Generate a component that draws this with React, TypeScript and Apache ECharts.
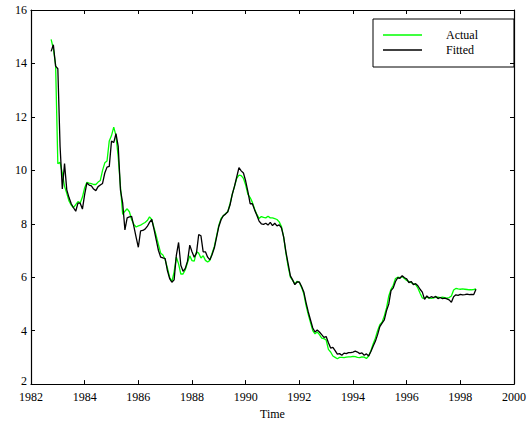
import React, { useEffect, useRef } from "react";
import * as echarts from "echarts";

// Monthly observations starting October 1982 (1982.75)
const startYear = 1982.75;
const monthsPerYear = 12;

const actual: number[] = [
  14.9, 14.55, 13.95, 10.25, 10.3, 9.9, 9.4, 9.14, 8.85, 8.7,
  8.6, 8.72, 8.83, 8.78, 9.0, 9.35, 9.55, 9.52, 9.5, 9.47,
  9.47, 9.56, 9.62, 10.0, 10.28, 10.35, 11.1, 11.3, 11.62, 11.3,
  10.5, 9.4, 8.35, 8.47, 8.56, 8.45, 8.15, 7.98, 7.88, 7.92,
  7.95, 8.0, 8.05, 8.12, 8.26, 8.16, 7.85, 7.55, 7.22, 6.9,
  6.83, 6.65, 6.35, 6.0, 5.83, 6.2, 6.75, 6.5, 6.12, 6.12,
  6.28, 6.55, 6.8, 6.62, 6.6, 6.95, 6.9, 6.72, 6.8, 6.63,
  6.57, 6.63, 6.9, 7.15, 7.55, 7.95, 8.2, 8.3, 8.38, 8.45,
  8.75, 9.1, 9.4, 9.7, 9.82, 9.8, 9.7, 9.45, 9.1, 8.98,
  8.8, 8.55, 8.35, 8.2, 8.27, 8.24, 8.22, 8.28, 8.22, 8.22,
  8.19, 8.16, 8.07, 7.9, 7.5, 6.9, 6.4, 6.0, 5.88, 5.75,
  5.85, 5.8, 5.62, 5.38, 4.95, 4.6, 4.3, 4.0, 3.88, 3.95,
  3.85, 3.72, 3.7, 3.65, 3.3, 3.2, 3.05, 3.0, 2.95, 3.0,
  3.0, 2.99, 3.01, 3.02, 3.02, 3.04, 3.03, 3.0, 2.99, 3.02,
  3.01, 2.96, 3.05, 3.25, 3.5, 3.72, 4.0, 4.22, 4.32, 4.55,
  4.85, 5.3, 5.55, 5.7, 5.95, 6.0, 5.98, 6.02, 5.95, 5.88,
  5.84, 5.8, 5.75, 5.72, 5.6, 5.4, 5.22, 5.22, 5.25, 5.22,
  5.21, 5.23, 5.25, 5.25, 5.24, 5.25, 5.24, 5.22, 5.24, 5.3,
  5.52, 5.58, 5.56, 5.55, 5.56, 5.55, 5.54, 5.53, 5.53, 5.54,
  5.56,
];

const fitted: number[] = [
  14.45, 14.7, 13.9, 13.8, 10.9, 9.3, 10.25, 9.27, 8.98, 8.75,
  8.6, 8.47, 8.77, 8.77, 8.55, 9.1, 9.53, 9.45, 9.42, 9.3,
  9.24, 9.39, 9.45, 9.51, 9.9, 10.12, 10.15, 11.1, 11.04, 11.37,
  10.9, 9.27, 8.77, 7.77, 8.22, 8.26, 8.28, 7.9, 7.5, 7.12,
  7.73, 7.75, 7.8, 7.9, 8.05, 8.16, 7.8, 7.4, 7.0, 6.75,
  6.72, 6.7, 6.25, 5.95, 5.81, 5.9, 6.82, 7.3, 6.45, 6.22,
  6.33, 6.6, 7.2, 6.95, 6.75, 6.9, 7.6, 7.55, 6.95, 6.95,
  6.75, 6.65, 6.85, 7.1, 7.5, 7.9, 8.15, 8.3, 8.36, 8.45,
  8.7, 9.1, 9.4, 9.75, 10.1, 9.98, 9.9, 9.6, 9.2, 8.75,
  8.75, 8.52, 8.32, 8.1, 8.0, 7.98, 8.02, 7.95, 8.05, 7.93,
  8.02, 7.92, 7.96, 7.85, 7.5, 6.95, 6.5, 6.05, 5.9, 5.72,
  5.82, 5.82, 5.65, 5.45, 5.05, 4.7, 4.4, 4.1, 3.95, 4.02,
  3.95, 3.85, 3.75, 3.78, 3.55, 3.35, 3.37, 3.25, 3.12, 3.14,
  3.08, 3.16, 3.14, 3.18, 3.18, 3.2, 3.23, 3.2, 3.14, 3.17,
  3.08, 3.13, 3.05, 3.22, 3.42, 3.6, 3.85, 4.15, 4.28, 4.4,
  4.75, 5.0, 5.5, 5.6, 5.84, 5.98, 5.96, 6.06, 5.98, 5.94,
  5.8, 5.84, 5.72, 5.76, 5.68, 5.55, 5.44, 5.17, 5.3, 5.22,
  5.27, 5.24, 5.28, 5.2, 5.24, 5.2, 5.22, 5.19, 5.15, 5.06,
  5.27, 5.34, 5.32, 5.36, 5.34, 5.35, 5.37, 5.35, 5.36, 5.35,
  5.55,
];

const seriesNames = ["Actual", "Fitted"];
const seriesColors = ["#00ff00", "#000000"];
const xAxisName = "Time";

const toPairs = (vals: number[]) =>
  vals.map((v, i) => [startYear + i / monthsPerYear, v]);

export default function App() {
  const ref = useRef<HTMLDivElement>(null);

  useEffect(() => {
    if (!ref.current) return;
    const chart = echarts.init(ref.current, undefined, { renderer: "svg" });
    const font = "Liberation Serif";
    const tickInside = { show: true, inside: true, length: 4, lineStyle: { color: "#000", width: 1 } };
    const axisLine = { show: true, lineStyle: { color: "#000", width: 1.2 } };
    chart.setOption({
      animation: false,
      backgroundColor: "#fff",
      grid: { left: 31, right: 15, top: 10, bottom: 34, containLabel: false },
      legend: {
        orient: "vertical",
        left: 373,
        top: 19,
        padding: [10, 36, 11, 10],
        itemWidth: 39,
        itemHeight: 14,
        itemGap: 3,
        borderColor: "#000",
        borderWidth: 1,
        borderRadius: 0,
        textStyle: { fontFamily: font, fontSize: 12, color: "#000", padding: [0, 0, 0, 19] },
        data: seriesNames.map((n) => ({ name: n, icon: "path://M0,0L40,0L40,1.6L0,1.6Z" })),
      },
      xAxis: [
        {
          type: "value",
          min: 1982,
          max: 2000,
          interval: 2,
          name: xAxisName,
          nameLocation: "middle",
          nameGap: 22,
          nameTextStyle: { fontFamily: font, fontSize: 12, color: "#000" },
          axisLine,
          axisTick: tickInside,
          splitLine: { show: false },
          axisLabel: {
            fontFamily: font,
            fontSize: 12,
            color: "#000",
            margin: 7,
            lineHeight: 12,
            formatter: (v: number) => String(v),
          },
        },
        {
          type: "value",
          position: "top",
          min: 1982,
          max: 2000,
          interval: 2,
          axisLine,
          axisTick: tickInside,
          splitLine: { show: false },
          axisLabel: { show: false },
        },
      ],
      yAxis: [
        {
          type: "value",
          min: 2,
          max: 16,
          interval: 2,
          axisLine,
          axisTick: tickInside,
          splitLine: { show: false },
          axisLabel: {
            fontFamily: font,
            fontSize: 12,
            color: "#000",
            margin: 4,
            lineHeight: 12,
            formatter: (v: number) => (v === 2 ? "{low|2}" : String(v)),
            rich: {
              low: { fontFamily: font, fontSize: 12, color: "#000", lineHeight: 12, padding: [0, 0, 7, 0] },
            },
          },
        },
        {
          type: "value",
          position: "right",
          min: 2,
          max: 16,
          interval: 2,
          axisLine,
          axisTick: tickInside,
          splitLine: { show: false },
          axisLabel: { show: false },
        },
      ],
      series: [
        {
          name: seriesNames[0],
          type: "line",
          data: toPairs(actual),
          showSymbol: false,
          symbol: "none",
          lineStyle: { color: seriesColors[0], width: 1.3 },
          itemStyle: { color: seriesColors[0] },
          z: 2,
        },
        {
          name: seriesNames[1],
          type: "line",
          data: toPairs(fitted),
          showSymbol: false,
          symbol: "none",
          lineStyle: { color: seriesColors[1], width: 1.3 },
          itemStyle: { color: seriesColors[1] },
          z: 3,
        },
      ],
    });
    return () => chart.dispose();
  }, []);

  return (
    <div
      ref={ref}
      style={{ position: "fixed", left: 0, top: 0, width: 529, height: 425, background: "#fff" }}
    />
  );
}
